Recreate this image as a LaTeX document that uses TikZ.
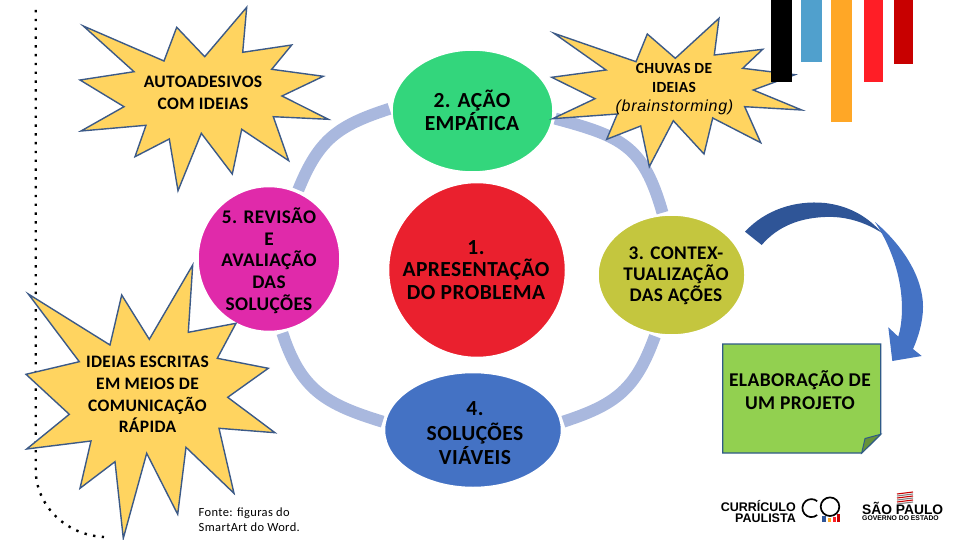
\documentclass[tikz,border=0pt]{standalone}
\usepackage{fontspec}
\setmainfont{Carlito}
\newfontfamily\labelfont[LetterSpace=2]{Carlito}
\newfontfamily\notefont[LetterSpace=3]{Carlito}
\newfontfamily\armfont[LetterSpace=4.5]{Liberation Sans}
\newfontfamily\logofont{Liberation Sans}
\usetikzlibrary{arrows.meta,positioning,calc,shapes.geometric}
\definecolor{BurstFill}{RGB}{255,212,96}
\definecolor{BurstEdge}{RGB}{60,90,135}
\definecolor{RingBlue}{RGB}{169,184,222}
\definecolor{StepGreen}{RGB}{51,214,124}
\definecolor{StepRed}{RGB}{234,32,46}
\definecolor{StepPink}{RGB}{224,42,170}
\definecolor{StepOlive}{RGB}{196,198,62}
\definecolor{StepBlue}{RGB}{68,114,196}
\definecolor{NoteGreen}{RGB}{146,208,80}
\definecolor{NoteEdge}{RGB}{47,90,135}
\definecolor{TurnDark}{RGB}{47,85,151}
\definecolor{BarBlue}{RGB}{80,160,205}
\definecolor{BarOrange}{RGB}{255,167,38}
\definecolor{BarRed}{RGB}{255,30,38}
\definecolor{BarDark}{RGB}{200,0,0}
\tikzset{
  burst/.style={draw=BurstEdge, line width=1.4pt, fill=BurstFill, line join=miter},
  bursttext/.style={align=center, font=\labelfont\fontsize{17.5}{21.7}\selectfont\bfseries, text=black},
  stepnode/.style={ellipse, draw=white, line width=1.5pt, inner sep=0pt},
  steptext/.style={align=center, font=\labelfont\fontsize{21.5}{22.5}\selectfont\bfseries, text=black},
  smalltext/.style={align=center, font=\labelfont\fontsize{19.3}{21.2}\selectfont\bfseries, text=black},
  ringarc/.style={draw=RingBlue, line width=12pt, shorten <=2pt, shorten >=2pt},
  logotext/.style={inner sep=0pt, text=black}
}
\begin{document}
\begin{tikzpicture}[x=1pt,y=-1pt]
  \useasboundingbox (0,0) rectangle (960,540);
  % steps
  \node[stepnode,fill=StepGreen,minimum width=161pt,minimum height=122pt] (acao) at (472.5,111) {};
  \node[stepnode,fill=StepRed,minimum width=177pt,minimum height=175pt] (problema) at (477,270) {};
  \node[stepnode,fill=StepPink,minimum width=142pt,minimum height=145pt] (revisao) at (269,259) {};
  \node[stepnode,fill=StepOlive,minimum width=147pt,minimum height=120pt] (contexto) at (671.5,275) {};
  \node[stepnode,fill=StepBlue,minimum width=177pt,minimum height=115pt] (solucoes) at (473,430) {};
  \node[steptext] (acaotext) at (472,110.5) {2. AÇÃO\\EMPÁTICA};
  \node[steptext] (problematext) at (476,270) {1.\\APRESENTAÇÃO\\DO PROBLEMA};
  \node[smalltext] (revisaotext) at (269,260.5) {5. REVISÃO\\[0.5pt]E\\[0.5pt]AVALIAÇÃO\\[0.5pt]DAS\\[0.5pt]SOLUÇÕES};
  \node[smalltext] (contextotext) at (676,275.5) {3. CONTEX-\\TUALIZAÇÃO\\DAS AÇÕES};
  \node[steptext] (solucoestext) at (475,433.5) {4.\\[2pt]SOLUÇÕES\\[2pt]VIÁVEIS};
  % ring
  \draw[ringarc] (acao.-5) to[out=-15,in=106,looseness=1.25] (contexto.98);
  \draw[ringarc] (contexto.-105) to[out=-110,in=18,looseness=1.15] (solucoes.5);
  \draw[ringarc] (solucoes.175) to[out=163,in=-72,looseness=1.15] (revisao.-80);
  \draw[ringarc] (revisao.67) to[out=68,in=198,looseness=1.15] (acao.178);
  % dots
  \draw[line width=2.4pt,dash pattern=on 2.4pt off 6.4pt] (35.7,10) -- (35.7,470) .. controls (36,505) and (65,535) .. (104,537);
  % bursts
  \draw[burst] (83.3,26) -- (164,61) -- (176.7,27.3) -- (204.7,56.7) -- (246.7,7.3) -- (242.7,52.3) -- (291.7,45) -- (271.7,69.3) -- (323.3,76.3) -- (282,96) -- (328.3,119.3) -- (273.3,116.7) -- (288.7,160.7) -- (241.7,129.3) -- (232.3,174) -- (201.3,133.3) -- (178,190.7) -- (169.3,139) -- (135,156.7) -- (146,125.3) -- (81,131) -- (124,106.7) -- (80,80) -- (134,71.7) -- cycle;
  \node[bursttext] (autoadesivos) at (203,93) {AUTOADESIVOS\\COM IDEIAS};
  \draw[burst] (554,33.3) -- (636,61.7) -- (647.3,34) -- (675.3,58.3) -- (719,18.3) -- (714.3,55) -- (762.7,49.3) -- (742.7,68.3) -- (795,74.7) -- (753.3,90) -- (801.7,110) -- (744.7,106.7) -- (760.7,142.7) -- (712.7,118) -- (704,154) -- (673.3,120.7) -- (649.3,166.7) -- (640.7,126) -- (606.7,139.3) -- (617.3,114) -- (552.7,118.7) -- (595,98.7) -- (551.7,77.3) -- (606,70) -- cycle;
  \node[align=center,font=\labelfont\fontsize{15.5}{19}\selectfont\bfseries] (chuvas) at (674,78) {CHUVAS DE\\IDEIAS};
  \node[font=\armfont\fontsize{16}{17}\selectfont\itshape] (brain) at (674.5,107) {(brainstorming)};
  \draw[burst] (28.3,294) -- (110,345) -- (121.7,295) -- (149.3,339.3) -- (192.7,265) -- (188.3,332.3) -- (236,323.3) -- (217.3,358.3) -- (268.3,368.3) -- (227.7,397.3) -- (275,432.7) -- (219,428.3) -- (234,493.3) -- (186,447.3) -- (177.7,514.3) -- (146.7,453.3) -- (123.3,538.3) -- (115,461.7) -- (80,488.3) -- (91,441) -- (26.7,449) -- (69.3,414.3) -- (26,374.3) -- (79.3,361.7) -- cycle;
  \node[bursttext] (escritas) at (147.5,394.5) {IDEIAS ESCRITAS\\EM MEIOS DE\\COMUNICAÇÃO\\RÁPIDA};
  \node[align=left,inner sep=0pt,anchor=north west,font=\notefont\fontsize{12.5}{15}\selectfont] (fonte) at (198.5,507.5) {Fonte: figuras do\\SmartArt do Word.};
  % bars
  \fill[black] (771,0) rectangle (792,82);
  \fill[BarBlue] (801,0) rectangle (822,62);
  \fill[BarOrange] (831,0) rectangle (852,122);
  \fill[BarRed] (864,0) rectangle (883,82);
  \fill[BarDark] (894,0) rectangle (913,64);
  % turning arrow
  \fill[StepBlue] (875,222) .. controls (900,243) and (923,275) .. (923,307) .. controls (923,322) and (918,338) .. (913,349) -- (921.7,356) -- (892.3,361) -- (888.3,327.3) -- (898.3,336.7) .. controls (906,310) and (903,265) .. (875,222) -- cycle;
  \fill[TurnDark] (745,231.7) .. controls (765,210) and (795,200) .. (825,203) .. controls (850,206) and (868,217) .. (882,233) .. controls (865,222) and (845,216) .. (825,217) .. controls (800,218) and (778,226) .. (761.7,245) -- cycle;
  % note
  \draw[fill=NoteGreen,draw=NoteEdge,line width=1.3pt] (722.7,344) -- (880.7,344) -- (880.7,434.3) -- (861.7,453) -- (722.7,453) -- cycle;
  \draw[fill=NoteGreen!70!black,draw=NoteEdge,line width=1pt] (880.7,434.3) -- (865,438.5) -- (861.7,453) -- cycle;
  \node[align=center,font=\labelfont\fontsize{19.5}{23}\selectfont\bfseries] (projeto) at (800,390.5) {ELABORAÇÃO DE\\UM PROJETO};
  % logos
  \node[logotext,anchor=east,font=\logofont\fontsize{12.5}{11.5}\selectfont\bfseries,align=right] (curriculo) at (796,511.5) {CURRÍCULO\\PAULISTA};
  \draw[line width=1.7pt] (817.2,515) arc (50:310:9);
  \draw[line width=1.7pt] (830,506.7) circle (9.3);
  \fill[TurnDark] (822,516) rectangle (826,522);
  \fill[BarOrange] (828,518) rectangle (831,522);
  \fill[BarRed] (833,517) rectangle (836,522);
  \fill[BarDark] (837,514) rectangle (840,522);
  \foreach \y/\c in {493/BarDark,495/gray,497/BarDark,499/gray,501/BarDark,503/gray}{
    \draw[\c,line width=1.1pt] (897,\y+1) -- (913,\y-1);
  }
  \node[logotext,anchor=base west,font=\logofont\fontsize{13.8}{14}\selectfont\bfseries] (saopaulo) at (862,514) {SÃO PAULO};
  \node[logotext,anchor=base west,font=\logofont\fontsize{6.8}{7}\selectfont\bfseries] (governo) at (862,520.5) {GOVERNO DO ESTADO};
\end{tikzpicture}
\end{document}
